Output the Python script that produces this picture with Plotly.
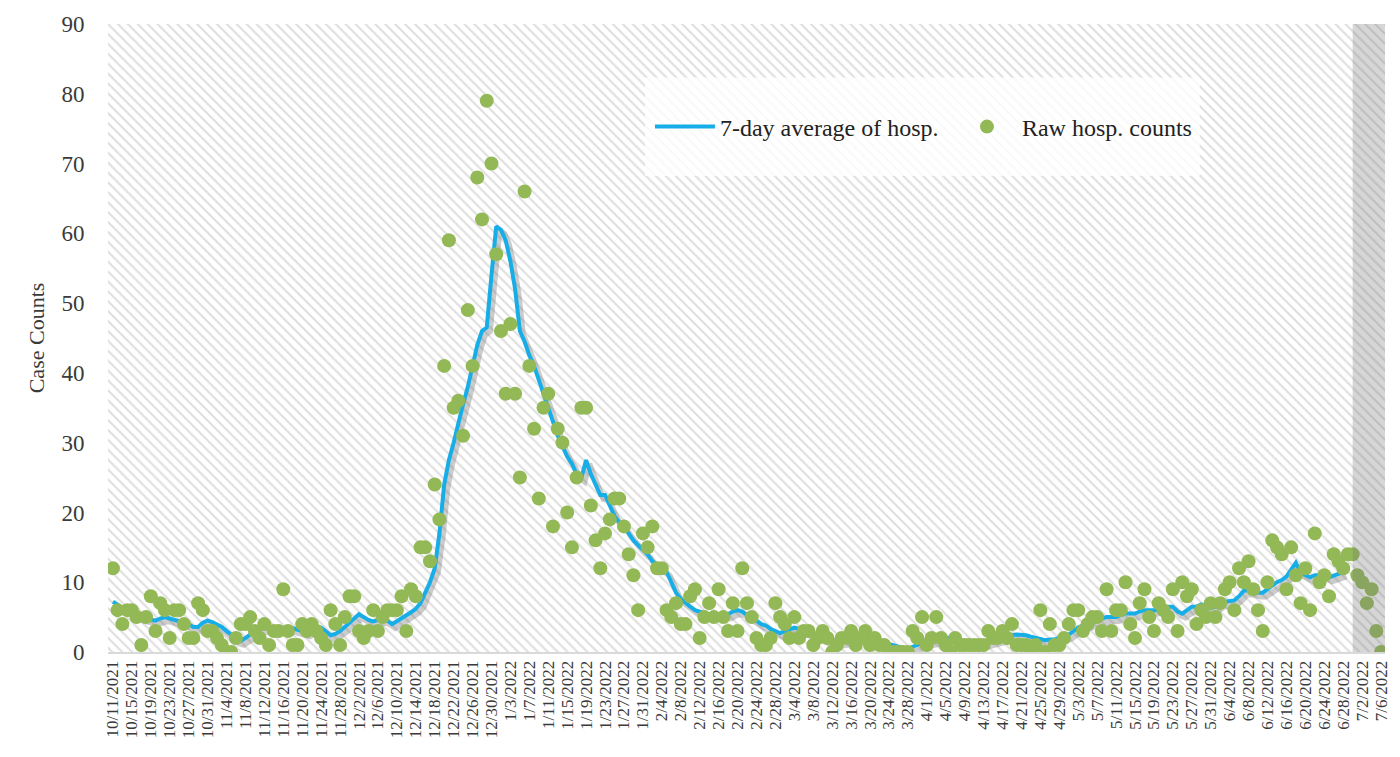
import pandas as pd
import plotly.graph_objects as go

# Palette / fonts
LINE_COLOR = "#17AEE8"
DOT_COLOR = "#93B957"
SHADOW_COLOR = "rgba(110,110,110,0.35)"
TEXT_COLOR = "#3A3A3A"
FONT = "Liberation Serif, Times New Roman, serif"

START_DATE = "2021-10-11"
SHADE_START = "2022-06-30"   # incomplete-data window at the end
Y_MAX = 90

# Raw daily hospitalisation counts, one list per month
raw_oct = [12, 6, 4, 6, 6, 5, 1, 5, 8, 3, 7, 6, 2, 6, 6, 4, 2, 2, 7, 6, 3]
raw_nov = [3, 2, 1, 0, 0, 2, 4, 4, 5, 3, 2, 4, 1, 3, 3, 9, 3, 1, 1, 4,
           3, 4, 3, 2, 1, 6, 4, 1, 5, 8]
raw_dec = [8, 3, 2, 3, 6, 3, 5, 6, 6, 6, 8, 3, 9, 8, 15, 15, 13, 24, 19, 41,
           59, 35, 36, 31, 49, 41, 68, 62, 79, 70, 57]
raw_jan = [46, 37, 47, 37, 25, 66, 41, 32, 22, 35, 37, 18, 32, 30, 20, 15, 25, 35, 35, 21,
           16, 12, 17, 19, 22, 22, 18, 14, 11, 6, 17]
raw_feb = [15, 18, 12, 12, 6, 5, 7, 4, 4, 8, 9, 2, 5, 7, 5, 9, 5, 3, 7, 3,
           12, 7, 5, 2, 1, 1, 2, 7]
raw_mar = [5, 4, 2, 5, 2, 3, 3, 1, 2, 3, 2, 0, 1, 2, 2, 3, 1, 2, 3, 1,
           2, 1, 1, 0, 0, 0, 0, 0, 3, 2, 5]
raw_apr = [1, 2, 5, 2, 1, 0, 2, 1, 1, 1, 1, 1, 1, 3, 2, 2, 3, 2, 4, 1,
           1, 1, 0, 1, 6, 0, 4, 1, 1, 2]
raw_may = [4, 6, 6, 3, 4, 5, 5, 3, 9, 3, 6, 6, 10, 4, 2, 7, 9, 5, 3, 7,
           6, 5, 9, 3, 10, 8, 9, 4, 6, 5, 7]
raw_jun = [5, 7, 9, 10, 6, 12, 10, 13, 9, 6, 3, 10, 16, 15, 14, 9, 15, 11, 7, 12,
           6, 17, 10, 11, 8, 14, 13, 12, 14, 14]
raw_jul = [11, 10, 7, 9, 3, 0]

# 7-day average as drawn (ends 6/28)
avg_oct = [7.2, 6.8, 6.2, 5.8, 5.5, 5.2, 5.0, 4.8, 4.6, 4.5, 4.8, 5.0, 4.8, 4.6, 4.5, 4.3,
           4.0, 3.6, 3.6, 4.2, 4.5]
avg_nov = [4.3, 4.0, 3.6, 3.0, 2.5, 1.8, 1.6, 2.0, 2.5, 3.0, 3.3, 3.5, 3.4, 3.3, 3.4, 3.5,
           3.5, 3.4, 3.2, 3.0, 2.8, 3.2, 3.6, 3.5, 3.0, 2.4, 2.6, 3.0, 3.6, 4.2]
avg_dec = [4.8, 5.4, 5.0, 4.6, 4.4, 4.6, 4.8, 4.5, 4.0, 4.4, 4.8, 5.2, 5.7, 6.2, 7.0, 8.5,
           10.0, 12.0, 17.0, 24.0, 27.5, 30.0, 33.0, 35.5, 38.0, 41.0, 44.0, 46.0, 46.5, 54.0,
           61.0]
avg_jan = [60.5, 59.0, 56.0, 52.0, 46.0, 44.5, 42.5, 41.0, 39.0, 37.0, 35.0, 33.0, 31.0, 29.5,
           28.0, 27.0, 25.5, 25.0, 27.5, 25.5, 24.0, 22.5, 22.5, 21.0, 19.5, 18.6, 18.0, 17.0,
           16.0, 15.3, 14.6]
avg_feb = [14.0, 13.0, 12.5, 12.0, 11.5, 10.0, 8.5, 7.6, 7.0, 6.5, 6.0, 5.8, 5.6, 5.4, 5.4,
           5.4, 5.4, 5.4, 5.8, 6.0, 5.8, 5.3, 4.8, 4.5, 4.0, 3.8, 3.3, 3.0]
avg_mar = [2.7, 3.0, 3.3, 3.5, 3.3, 3.0, 2.7, 2.4, 2.1, 2.0, 1.8, 1.6, 1.5, 1.5, 1.7, 1.9,
           2.0, 2.0, 2.0, 1.9, 1.7, 1.5, 1.3, 1.1, 0.9, 0.7, 0.6, 0.5, 0.7, 1.0, 1.3]
avg_apr = [1.5, 1.6, 1.8, 2.0, 2.0, 2.0, 1.8, 1.7, 1.5, 1.5, 1.3, 1.2, 1.3, 1.5, 1.7, 1.8,
           2.0, 2.2, 2.4, 2.5, 2.5, 2.4, 2.2, 2.0, 1.8, 1.7, 1.8, 1.8, 2.0, 2.2]
avg_may = [2.5, 3.0, 3.5, 3.8, 4.0, 4.3, 4.5, 4.8, 5.0, 5.0, 5.0, 5.3, 5.5, 5.5, 5.5, 5.8,
           6.0, 6.0, 6.0, 6.0, 6.2, 6.5, 6.5, 5.8, 5.5, 6.0, 6.5, 6.5, 6.8, 6.5, 6.3]
avg_jun = [6.5, 7.0, 7.2, 7.3, 7.4, 8.0, 8.8, 8.8, 8.6, 8.5, 8.5, 9.0, 9.5, 10.0, 10.3, 10.8,
           11.8, 12.8, 11.4, 11.0, 10.7, 11.0, 11.0, 11.0, 10.7, 11.0, 11.2, 11.4]

raw_counts = raw_oct + raw_nov + raw_dec + raw_jan + raw_feb + raw_mar + raw_apr + raw_may + raw_jun + raw_jul
avg_counts = avg_oct + avg_nov + avg_dec + avg_jan + avg_feb + avg_mar + avg_apr + avg_may + avg_jun

dates = pd.date_range(START_DATE, periods=len(raw_counts), freq="D")
avg_dates = dates[:len(avg_counts)]

# axis window: about one day of padding each side
x_start = dates[0] - pd.Timedelta(hours=25)
x_end = dates[-1] + pd.Timedelta(hours=20)
# shadow offset (a few px right / down)
sx = pd.Timedelta(hours=16)
sy = 0.55

fig = go.Figure()

# hatched plot background
fig.add_trace(go.Scatter(
    x=[x_start, x_end], y=[Y_MAX, Y_MAX], mode="none", fill="tozeroy",
    fillcolor="white",
    fillpattern=dict(shape="\\", fgcolor="#BEBEBE", bgcolor="white", size=7, solidity=0.3),
    hoverinfo="skip", showlegend=False,
))

# soft drop shadow of the average line
fig.add_trace(go.Scatter(
    x=avg_dates, y=avg_counts, mode="lines", xaxis="x2", yaxis="y2",
    line=dict(color=SHADOW_COLOR, width=6), hoverinfo="skip", showlegend=False,
))

fig.add_trace(go.Scatter(
    x=avg_dates, y=avg_counts, mode="lines", name="7-day average of hosp.",
    xaxis="x3", yaxis="y3",
    line=dict(color=LINE_COLOR, width=4),
))
fig.add_trace(go.Scatter(
    x=dates, y=raw_counts, mode="markers", name="Raw hosp. counts",
    xaxis="x3", yaxis="y3",
    marker=dict(color=DOT_COLOR, size=14),
))

tick_kw = dict(tick0=START_DATE, dtick=4 * 86400000)

# page body adds an 8px offset, so the figure is 8px smaller than the window
fig.update_layout(
    width=1392, height=749,
    margin=dict(l=100, r=15, t=16, b=105),
    paper_bgcolor="white", plot_bgcolor="white",
    font=dict(family=FONT, color=TEXT_COLOR),
    xaxis=dict(
        type="date", range=[x_start, x_end], **tick_kw, automargin=False,
        tickformat="%-m/%-d/%Y", tickangle=-90, tickfont=dict(size=17, color=TEXT_COLOR),
        showgrid=False, zeroline=False, ticks="",
        showline=True, linecolor="#D9D9D9", linewidth=2,
    ),
    yaxis=dict(
        range=[0, Y_MAX], dtick=10, showgrid=False, zeroline=False, automargin=False,
        tickfont=dict(size=23, color=TEXT_COLOR), ticklabeloverflow="allow",
        ticks="outside", ticklen=18, tickcolor="rgba(0,0,0,0)",
        title=dict(text="Case Counts", font=dict(size=22, color=TEXT_COLOR), standoff=10),
    ),
    xaxis2=dict(type="date", overlaying="x", range=[x_start - sx, x_end - sx], visible=False),
    yaxis2=dict(overlaying="y", range=[sy, Y_MAX + sy], visible=False),
    xaxis3=dict(
        type="date", overlaying="x", range=[x_start, x_end], **tick_kw,
        showticklabels=False, ticks="", showline=False, zeroline=False,
        showgrid=True, gridcolor="rgba(255,255,255,0.75)", gridwidth=3,
    ),
    yaxis3=dict(overlaying="y", range=[0, Y_MAX], visible=False),
    legend=dict(
        orientation="h", x=0.4244, y=0.836, xanchor="left", yanchor="middle",
        entrywidth=227, itemwidth=60,
        bgcolor="rgba(0,0,0,0)", font=dict(size=24, color="#222"),
    ),
    shapes=[
        # legend panel
        dict(type="rect", xref="paper", yref="paper", x0=0.4205, x1=0.855, y0=0.758, y1=0.915,
             fillcolor="rgba(255,255,255,0.8)", line=dict(width=0), layer="above"),
        # greyed-out last days
        dict(type="rect", xref="x", yref="paper", x0=SHADE_START, x1=x_end, y0=0, y1=1,
             fillcolor="rgba(120,120,120,0.3)", line=dict(width=0), layer="above"),
    ],
)

fig.write_html("out.html")
